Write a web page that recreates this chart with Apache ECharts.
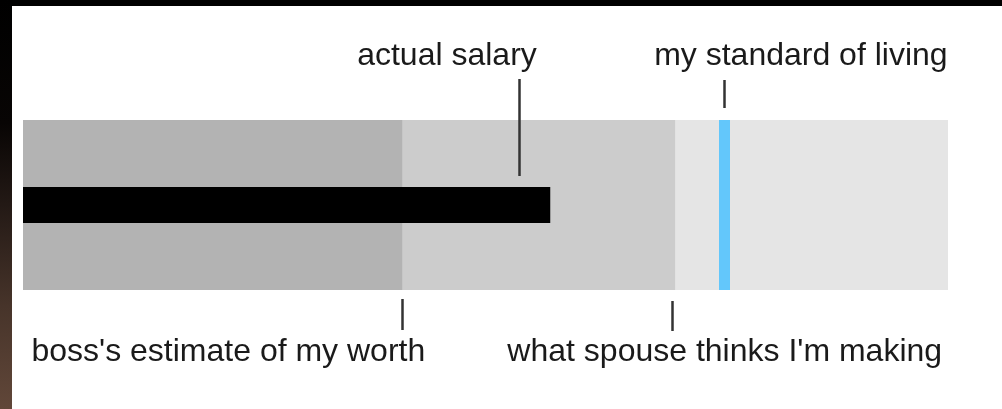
<!DOCTYPE html>
<html>
<head>
<meta charset="utf-8">
<script src="https://cdn.jsdelivr.net/npm/echarts@6/dist/echarts.min.js"></script>
<style>
  html, body { margin: 0; padding: 0; background: #fff; }
  #chart { width: 1002px; height: 409px; }
</style>
</head>
<body>
<div id="chart"></div>
<script>
// values on a 0-100 scale
const categories = ['salary']
const bandEnds = [41, 70.5, 100] // boss's estimate, spouse's guess, end of scale
const actualSalary = [57]
const standardOfLiving = 75.8
const annotationLabels = [
  'actual salary',
  'my standard of living',
  "boss's estimate of my worth",
  "what spouse thinks I'm making"
]
const annotationValues = [53.6, 75.8, 41, 70.2]
const annotationSides = ['top', 'top', 'bottom', 'bottom']

// pixel layout for each annotation (tick from/to relative to band edge, text anchor)
const annotationLayout = [
  { y0: -41, y1: 56, align: 'right', dx: 18 },
  { y0: -40, y1: -12, align: 'left', dx: -70 },
  { y0: 9, y1: 40, align: 'right', dx: 23 },
  { y0: 11, y1: 41, align: 'left', dx: -165 }
]

const bandColors = ['#e5e5e5', '#cccccc', '#b3b3b3']
const FONT = '"Liberation Sans", Arial, sans-serif'

const chart = echarts.init(document.getElementById('chart'))

const bandSeries = bandEnds
  .map((end, i) => ({ end, color: bandColors[bandEnds.length - 1 - i] }))
  .reverse()
  .map(b => ({
    type: 'bar',
    yAxisIndex: 0,
    data: [b.end],
    barWidth: '100%',
    barGap: '-100%',
    itemStyle: { color: b.color },
    silent: true
  }))

const annotationData = annotationValues.map((v, i) => [v, 0, i])

const option = {
  animation: false,
  backgroundColor: '#fff',
  graphic: [
    { type: 'rect', shape: { x: 0, y: 0, width: 1002, height: 6 }, style: { fill: '#000' }, z: 100 },
    {
      type: 'rect',
      shape: { x: 0, y: 0, width: 12, height: 409 },
      style: {
        fill: new echarts.graphic.LinearGradient(0, 0, 0, 1, [
          { offset: 0, color: '#000' },
          { offset: 0.3, color: '#080504' },
          { offset: 0.5, color: '#231915' },
          { offset: 0.75, color: '#47342a' },
          { offset: 1, color: '#614739' }
        ])
      },
      z: 100
    }
  ],
  grid: { left: 23, top: 120, width: 925, height: 170 },
  xAxis: { type: 'value', min: 0, max: 100, show: false },
  yAxis: [
    { type: 'category', data: categories, show: false },
    { type: 'category', data: categories, show: false }
  ],
  series: [
    ...bandSeries,
    {
      type: 'bar',
      yAxisIndex: 1,
      data: actualSalary,
      barWidth: 36,
      itemStyle: { color: '#000' },
      silent: true,
      markLine: {
        silent: true,
        symbol: ['none', 'none'],
        label: { show: false },
        lineStyle: { color: '#63c7fb', width: 11, type: 'solid' },
        data: [{ xAxis: standardOfLiving }]
      }
    },
    {
      type: 'custom',
      yAxisIndex: 0,
      z: 10,
      silent: true,
      data: annotationData,
      renderItem: (params, api) => {
        const i = api.value(2)
        const p = api.coord([api.value(0), 0])
        const band = api.size([0, 1])[1]
        const lay = annotationLayout[i]
        const edge = annotationSides[i] === 'top' ? p[1] - band / 2 : p[1] + band / 2
        const baseline = annotationSides[i] === 'top' ? edge - 53 : edge + 73
        const x = Math.round(p[0]) + 0.5
        return {
          type: 'group',
          children: [
            {
              type: 'line',
              shape: { x1: x, y1: edge + lay.y0, x2: x, y2: edge + lay.y1 },
              style: { stroke: '#333', lineWidth: 2.5 }
            },
            {
              type: 'text',
              x: p[0] + lay.dx,
              y: baseline - 11,
              style: {
                text: annotationLabels[i],
                font: '32px ' + FONT,
                fill: '#1a1a1a',
                align: lay.align,
                verticalAlign: 'middle'
              }
            }
          ]
        }
      }
    }
  ]
}

chart.setOption(option)
window.addEventListener('resize', () => chart.resize())
</script>
</body>
</html>
